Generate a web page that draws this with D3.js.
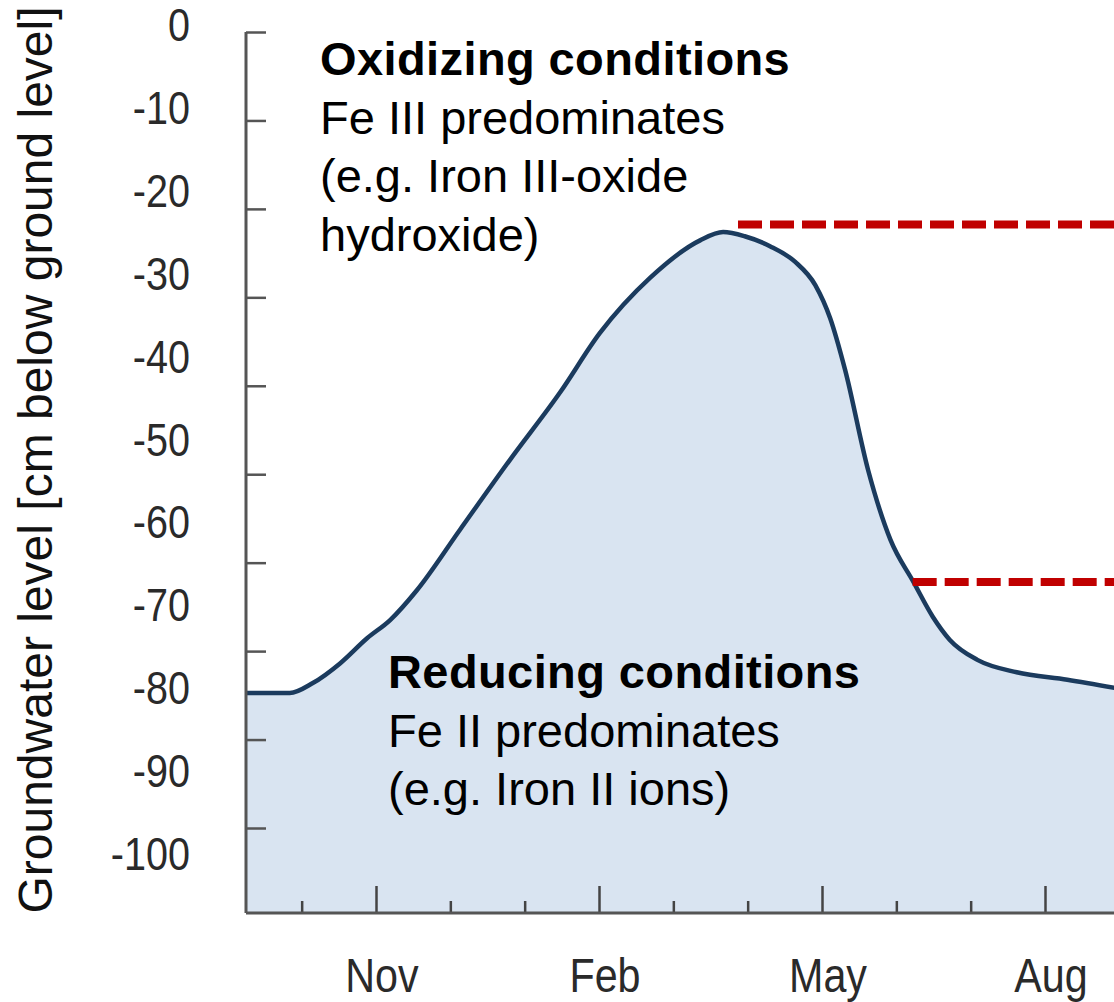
<!DOCTYPE html>
<html>
<head>
<meta charset="utf-8">
<script src="https://cdn.jsdelivr.net/npm/d3@7/dist/d3.min.js"></script>
<style>
  body { margin: 0; background: #fff; }
  svg { display: block; }
</style>
</head>
<body>
<div id="chart"></div>
<script>
// groundwater level through the year (month index: Nov = 0)
const months = [-1.75, -1.16, -0.85, -0.48, -0.12, 0.19, 0.55, 1.13, 1.80, 2.48, 3.01, 3.69, 4.36, 4.67, 4.96, 5.30, 5.64, 5.91, 6.11, 6.31, 6.62, 6.92, 7.23, 7.49, 7.72, 8.09, 8.62, 9.30, 9.95];
const levels = [-80.7, -80.7, -79.5, -77.1, -74.1, -71.9, -68.3, -61.0, -52.6, -44.4, -37.3, -30.6, -26.1, -25.1, -25.6, -26.8, -28.7, -31.5, -35.5, -41.7, -53.8, -62.2, -67.3, -71.5, -74.3, -76.7, -78.2, -79.1, -80.1];

// threshold lines (dashed red)
const thresholdLevels = [-24.2, -67.3];
const thresholdStarts = [4.87, 7.22];

// axes
const yLabelValues = [0, -10, -20, -30, -40, -50, -60, -70, -80, -90, -100];
const yMarkValues = [0, -10, -20, -30, -40, -50, -60, -70, -80, -90];
const monthTicks = [-1, 0, 1, 2, 3, 4, 5, 6, 7, 8, 9];
const majorMonths = [0, 3, 6, 9];
const monthNames = ['Nov', 'Feb', 'May', 'Aug'];

// annotations
const oxidizingLines = ['Oxidizing conditions', 'Fe III predominates', '(e.g. Iron III-oxide', 'hydroxide)'];
const reducingLines = ['Reducing conditions', 'Fe II predominates', '(e.g. Iron II ions)'];

const width = 1114, height = 1002;
const axisX = 246, axisY = 913;
const sans = '"Liberation Sans", Arial, sans-serif';

const svg = d3.select('#chart').append('svg')
  .attr('width', width)
  .attr('height', height);

const x = d3.scaleLinear().domain([0, 9]).range([376, 1045]);
const y = d3.scaleLinear().domain([0, -100]).range([24, 853]);
// tick marks on the left axis sit on their own spacing
const yMarks = d3.scaleLinear().domain([0, -90]).range([32, 828]);

const pts = months.map((m, i) => [m, levels[i]]);

// filled area under the curve
const area = d3.area()
  .x(d => x(d[0]))
  .y0(axisY)
  .y1(d => y(d[1]))
  .curve(d3.curveMonotoneX);

svg.append('path')
  .datum(pts)
  .attr('d', area)
  .attr('fill', '#d9e4f1');

const line = d3.line()
  .x(d => x(d[0]))
  .y(d => y(d[1]))
  .curve(d3.curveMonotoneX);

svg.append('path')
  .datum(pts)
  .attr('d', line)
  .attr('fill', 'none')
  .attr('stroke', '#1b3b5e')
  .attr('stroke-width', 4.5);

// red dashed threshold lines
svg.selectAll('line.threshold')
  .data(thresholdLevels)
  .join('line')
  .attr('class', 'threshold')
  .attr('x1', (d, i) => x(thresholdStarts[i]))
  .attr('x2', width)
  .attr('y1', d => y(d))
  .attr('y2', d => y(d))
  .attr('stroke', '#c00000')
  .attr('stroke-width', 8)
  .attr('stroke-dasharray', '24 8');

// left axis: ticks point inward
const leftMarks = svg.append('g')
  .attr('transform', `translate(${axisX},0)`)
  .call(d3.axisRight(yMarks).tickValues(yMarkValues).tickSize(20).tickFormat(''));
leftMarks.select('.domain').remove();
leftMarks.selectAll('line').attr('stroke', '#555').attr('stroke-width', 2.5);

svg.append('line')
  .attr('x1', axisX).attr('x2', axisX)
  .attr('y1', 32).attr('y2', axisY)
  .attr('stroke', '#555').attr('stroke-width', 3);

// narrow-looking tick labels: squeeze horizontally
const leftLabels = svg.append('g')
  .attr('transform', 'translate(190,0)')
  .call(d3.axisLeft(y).tickValues(yLabelValues).tickSize(0).tickPadding(0).tickFormat(d => String(d)));
leftLabels.select('.domain').remove();
leftLabels.selectAll('text')
  .attr('x', 0)
  .attr('transform', 'scale(0.86,1)')
  .attr('font-family', sans)
  .attr('font-size', 46)
  .attr('fill', '#2a2a2a')
  .attr('dy', '0.36em');

// bottom axis: ticks point upward, longer at labelled months
const bottom = svg.append('g')
  .attr('transform', `translate(0,${axisY})`)
  .call(d3.axisTop(x).tickValues(monthTicks).tickSize(12).tickFormat(''));
bottom.select('.domain').remove();
bottom.selectAll('.tick line')
  .attr('y2', d => majorMonths.includes(d) ? -27 : -12)
  .attr('stroke', '#444')
  .attr('stroke-width', 2.5);

svg.append('line')
  .attr('x1', axisX).attr('x2', width)
  .attr('y1', axisY).attr('y2', axisY)
  .attr('stroke', '#555').attr('stroke-width', 3);

svg.selectAll('text.month')
  .data(majorMonths)
  .join('text')
  .attr('class', 'month')
  .attr('transform', d => `translate(${x(d) + 6},992) scale(0.86,1)`)
  .attr('text-anchor', 'middle')
  .attr('font-family', sans)
  .attr('font-size', 48)
  .attr('fill', '#2a2a2a')
  .text((d, i) => monthNames[i]);

// axis title
svg.append('text')
  .attr('transform', 'translate(52,460) rotate(-90)')
  .attr('text-anchor', 'middle')
  .attr('font-family', sans)
  .attr('font-size', 48)
  .attr('fill', '#111')
  .text('Groundwater level [cm below ground level]');

// annotation blocks
function addBlock(lines, x0, y0) {
  svg.append('g')
    .selectAll('text')
    .data(lines)
    .join('text')
    .attr('x', x0)
    .attr('y', (d, i) => y0 + i * 58.5)
    .attr('font-family', sans)
    .attr('font-size', 47)
    .attr('font-weight', (d, i) => i === 0 ? 'bold' : 'normal')
    .attr('letter-spacing', (d, i) => i === 0 ? 0.4 : 0)
    .attr('fill', '#000')
    .text(d => d);
}

addBlock(oxidizingLines, 320, 75);
addBlock(reducingLines, 388, 688);
</script>
</body>
</html>
